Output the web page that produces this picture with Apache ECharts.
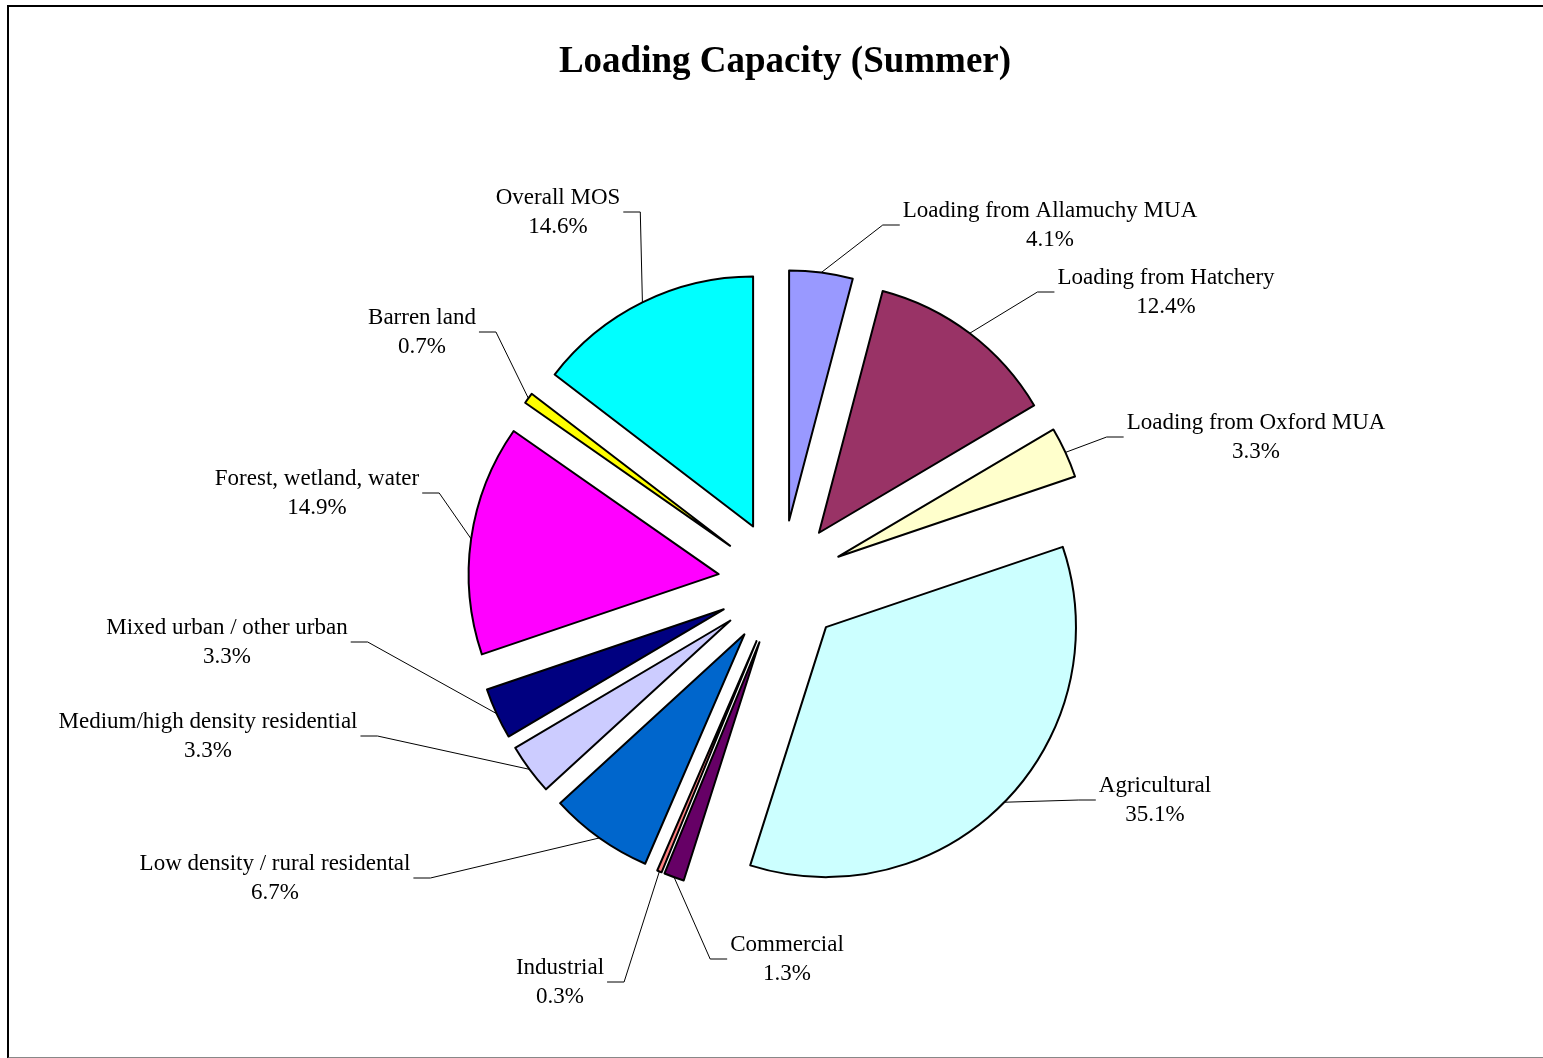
<!DOCTYPE html>
<html>
<head>
<meta charset="UTF-8">
<title>Loading Capacity (Summer)</title>
<script src="https://cdn.jsdelivr.net/npm/echarts@6/dist/echarts.min.js"></script>
<style>
  html, body { margin: 0; padding: 0; background: #fff; }
  #frame { position: absolute; left: 7px; top: 5px; width: 1540px; height: 1050px; border: 2px solid #000; border-bottom-color: #888; }
  #chart { position: absolute; left: 0; top: 0; width: 1543px; height: 1058px; }
</style>
</head>
<body>
<div id="frame"></div>
<div id="chart"></div>
<script>
// slices, clockwise from 12 o'clock
const categories = [
  'Loading from Allamuchy MUA',
  'Loading from Hatchery',
  'Loading from Oxford MUA',
  'Agricultural',
  'Commercial',
  'Industrial',
  'Low density / rural residental',
  'Medium/high density residential',
  'Mixed urban / other urban',
  'Forest, wetland, water',
  'Barren land',
  'Overall MOS'
];
const shares = [4.1, 12.4, 3.3, 35.1, 1.3, 0.3, 6.7, 3.3, 3.3, 14.9, 0.7, 14.6];
const sliceColors = [
  '#9999FF', '#993366', '#FFFFCC', '#CCFFFF', '#660066', '#FF8080',
  '#0066CC', '#CCCCFF', '#000080', '#FF00FF', '#FFFF00', '#00FFFF'
];

// where the Excel-style labels sit (centre of the two-line block)
const labelSpots = [
  [1050, 225], [1166, 292], [1256, 437], [1155, 800], [787, 959], [560, 982],
  [275, 878], [208, 736], [227, 642], [317, 493], [422, 332], [558, 212]
];

const serif = '"Liberation Serif", "Times New Roman", serif';
const pieCenter = [781, 583];
const pieRadius = 250;
const explode = 63;

const chart = echarts.init(document.getElementById('chart'));

// label series sits behind the exploded slices; its leader lines start on
// the exploded arc (default line start pushed out by the explode distance)
function placeLabel(params) {
  const spot = labelSpots[params.dataIndex];
  const pts = params.labelLinePoints;
  const half = params.labelRect.width / 2;
  const out = { x: spot[0], y: spot[1], align: 'center', verticalAlign: 'middle' };
  if (pts && pts.length >= 2) {
    const p0 = pts[0], p1 = pts[1];
    const len = Math.hypot(p1[0] - p0[0], p1[1] - p0[1]) || 1;
    const start = [p0[0] + (p1[0] - p0[0]) / len * explode, p0[1] + (p1[1] - p0[1]) / len * explode];
    const toRight = spot[0] > start[0];
    const endX = toRight ? spot[0] - half - 3 : spot[0] + half + 3;
    const bendX = toRight ? endX - 17 : endX + 17;
    out.labelLinePoints = [start, [bendX, spot[1]], [endX, spot[1]]];
  }
  return out;
}

const option = {
  animation: false,
  backgroundColor: 'transparent',
  title: {
    text: 'Loading Capacity (Summer)',
    left: 780,
    top: 39,
    textAlign: 'center',
    textStyle: { fontFamily: serif, fontWeight: 'bold', fontSize: 37, color: '#000' }
  },
  series: [
    {
      // labels + leader lines only
      type: 'pie',
      z: 1,
      silent: true,
      center: pieCenter,
      radius: pieRadius,
      startAngle: 90,
      clockwise: true,
      avoidLabelOverlap: false,
      emphasis: { disabled: true },
      itemStyle: { color: 'rgba(0,0,0,0)', borderWidth: 0 },
      label: {
        show: true,
        position: 'outside',
        formatter: (p) => '{t|' + p.name + '}\n{t|' + p.value.toFixed(1) + '%}',
        rich: {
          t: { align: 'center', fontFamily: serif, fontSize: 23, lineHeight: 29, color: '#000' }
        }
      },
      labelLine: {
        show: true,
        length: 20,
        length2: 17,
        lineStyle: { color: '#000', width: 1 }
      },
      labelLayout: placeLabel,
      data: categories.map((name, i) => ({ name: name, value: shares[i] }))
    },
    {
      // exploded slices
      type: 'pie',
      z: 2,
      center: pieCenter,
      radius: pieRadius,
      startAngle: 90,
      clockwise: true,
      selectedMode: 'multiple',
      selectedOffset: explode,
      emphasis: { disabled: true },
      itemStyle: { borderColor: '#000', borderWidth: 2 },
      label: { show: false },
      labelLine: { show: false },
      data: categories.map((name, i) => ({
        name: name,
        value: shares[i],
        selected: true,
        itemStyle: { color: sliceColors[i] }
      }))
    }
  ]
};

chart.setOption(option);
</script>
</body>
</html>
